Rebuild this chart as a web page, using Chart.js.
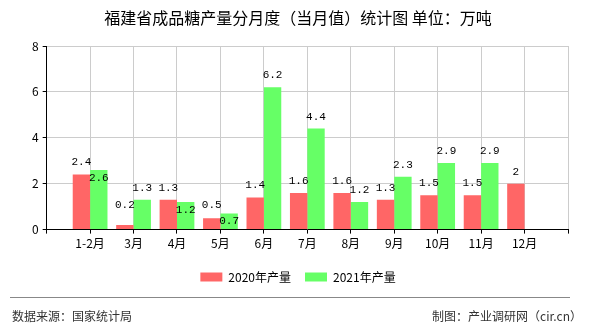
<!DOCTYPE html>
<html>
<head>
<meta charset="utf-8">
<script src="https://cdn.jsdelivr.net/npm/chart.js@4/dist/chart.umd.min.js"></script>
<style>
  body { margin: 0; background: #fff; }
  #wrap { position: relative; width: 590px; height: 330px; background: #fff; }
  #sugar { position: absolute; left: 0; top: 0; }
  .rule { position: absolute; left: 10px; top: 297px; width: 560px; height: 0; border-top: 1px solid #888; }
  .foot { position: absolute; top: 307px; font: 12px "Noto Sans CJK SC", sans-serif; color: #333; line-height: 18px; }
</style>
</head>
<body>
<div id="wrap">
  <canvas id="sugar" width="590" height="330"></canvas>
  <div class="rule"></div>
  <div class="foot" style="left:12px">数据来源：国家统计局</div>
  <div class="foot" style="right:8px">制图：产业调研网（cir.cn）</div>
</div>
<script>
const months = ['1-2月', '3月', '4月', '5月', '6月', '7月', '8月', '9月', '10月', '11月', '12月'];
const output2020 = [2.4, 0.2, 1.3, 0.5, 1.4, 1.6, 1.6, 1.3, 1.5, 1.5, 2];
const output2021 = [2.6, 1.3, 1.2, 0.7, 6.2, 4.4, 1.2, 2.3, 2.9, 2.9, null];

// one empty slot on each side so the months sit on the grid lines
const labels = [''].concat(months, ['']);
const pad = arr => [null].concat(arr, [null]);
const data2020 = pad(output2020);
const data2021 = pad(output2021);

const valueLabels = {
  id: 'valueLabels',
  afterDatasetsDraw(chart) {
    const ctx = chart.ctx;
    const base = chart.scales.y.getPixelForValue(0);
    const red = chart.getDatasetMeta(0).data;
    const green = chart.getDatasetMeta(1).data;
    ctx.save();
    ctx.font = '11px "Liberation Mono", monospace';
    ctx.fillStyle = '#000';
    ctx.textAlign = 'center';
    ctx.textBaseline = 'middle';
    for (let i = 0; i < labels.length; i++) {
      let redY = null;
      if (data2020[i] != null) {
        redY = Math.min(red[i].y - 12, base - 25);
        ctx.fillText(String(data2020[i]), red[i].x, redY);
      }
      if (data2021[i] != null) {
        let y = green[i].y - 12;
        // push the label into the bar when it would sit on top of its neighbour
        if (redY !== null && Math.abs(y - redY) < 8) y = green[i].y + 8;
        ctx.fillText(String(data2021[i]), green[i].x, y);
      }
    }
    ctx.restore();
  }
};

const font = { family: '"Noto Sans CJK SC", sans-serif', size: 12 };

new Chart(document.getElementById('sugar'), {
  type: 'bar',
  data: {
    labels: labels,
    datasets: [
      {
        label: '2020年产量',
        data: data2020,
        backgroundColor: '#ff6666',
        borderWidth: 0,
        categoryPercentage: 0.8,
        barPercentage: 1.0
      },
      {
        label: '2021年产量',
        data: data2021,
        backgroundColor: '#66ff66',
        borderWidth: 0,
        categoryPercentage: 0.8,
        barPercentage: 1.0
      }
    ]
  },
  options: {
    responsive: false,
    animation: false,
    devicePixelRatio: 1,
    layout: { padding: { left: 28, right: 22, top: 0, bottom: 37 } },
    plugins: {
      title: {
        display: true,
        text: '福建省成品糖产量分月度（当月值）统计图 单位：万吨',
        color: '#000',
        font: { family: font.family, size: 16, weight: 'normal' },
        padding: { top: 8, bottom: 18.8 }
      },
      legend: {
        position: 'bottom',
        labels: {
          boxWidth: 22,
          boxHeight: 9,
          padding: 14,
          color: '#000',
          font: font
        }
      },
      tooltip: { enabled: false }
    },
    scales: {
      x: {
        offset: false,
        grid: { offset: false, color: '#ccc', tickColor: '#000', tickLength: 4 },
        border: { color: '#000', width: 1 },
        ticks: { color: '#000', font: font, padding: 3, autoSkip: false, maxRotation: 0 },
        afterFit(scale) { scale.height += 3; }
      },
      y: {
        min: 0,
        max: 8,
        grid: { color: '#ccc', tickColor: '#000', tickLength: 4 },
        border: { color: '#000', width: 1 },
        ticks: { stepSize: 2, color: '#000', font: font, padding: 4 }
      }
    }
  },
  plugins: [valueLabels]
});
</script>
</body>
</html>
